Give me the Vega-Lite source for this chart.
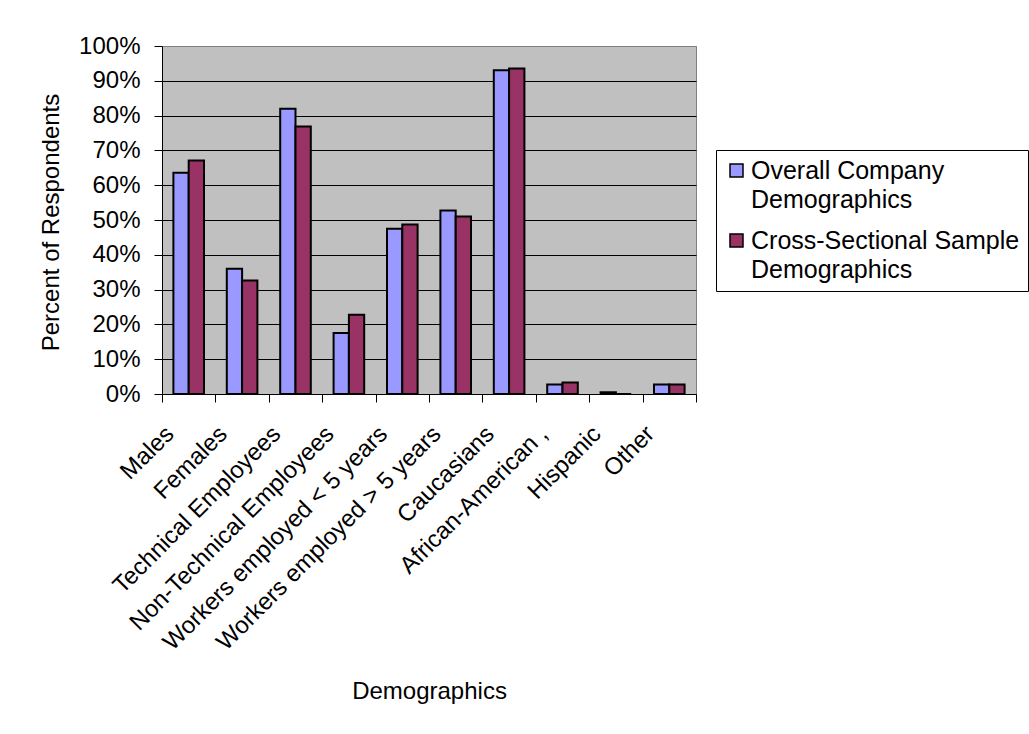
{
  "$schema": "https://vega.github.io/schema/vega-lite/v6.json",
  "width": 534,
  "height": 348,
  "autosize": {"type": "none"},
  "padding": {"left": 162, "top": 46, "right": 333, "bottom": 340},
  "background": "white",
  "config": {
    "font": "Liberation Sans",
    "view": {"fill": "#C0C0C0", "stroke": "#808080", "strokeWidth": 1},
    "style": {"guide-label": {"lineHeight": 29}}
  },
  "data": {
    "values": [
      {"category": "Males", "series": "Overall Company Demographics", "value": 0.636},
      {"category": "Males", "series": "Cross-Sectional Sample Demographics", "value": 0.671},
      {"category": "Females", "series": "Overall Company Demographics", "value": 0.36},
      {"category": "Females", "series": "Cross-Sectional Sample Demographics", "value": 0.326},
      {"category": "Technical Employees", "series": "Overall Company Demographics", "value": 0.82},
      {"category": "Technical Employees", "series": "Cross-Sectional Sample Demographics", "value": 0.769},
      {"category": "Non-Technical Employees", "series": "Overall Company Demographics", "value": 0.175},
      {"category": "Non-Technical Employees", "series": "Cross-Sectional Sample Demographics", "value": 0.228},
      {"category": "Workers employed < 5 years", "series": "Overall Company Demographics", "value": 0.475},
      {"category": "Workers employed < 5 years", "series": "Cross-Sectional Sample Demographics", "value": 0.487},
      {"category": "Workers employed > 5 years", "series": "Overall Company Demographics", "value": 0.527},
      {"category": "Workers employed > 5 years", "series": "Cross-Sectional Sample Demographics", "value": 0.51},
      {"category": "Caucasians", "series": "Overall Company Demographics", "value": 0.93},
      {"category": "Caucasians", "series": "Cross-Sectional Sample Demographics", "value": 0.935},
      {"category": "African-American ,", "series": "Overall Company Demographics", "value": 0.027},
      {"category": "African-American ,", "series": "Cross-Sectional Sample Demographics", "value": 0.033},
      {"category": "Hispanic", "series": "Overall Company Demographics", "value": 0.005},
      {"category": "Hispanic", "series": "Cross-Sectional Sample Demographics", "value": 0.0},
      {"category": "Other", "series": "Overall Company Demographics", "value": 0.027},
      {"category": "Other", "series": "Cross-Sectional Sample Demographics", "value": 0.027}
    ]
  },
  "mark": {"type": "bar", "stroke": "#000", "strokeWidth": 2},
  "encoding": {
    "x": {
      "field": "category",
      "type": "nominal",
      "sort": null,
      "scale": {"paddingInner": 0, "paddingOuter": 0},
      "axis": {
        "title": "Demographics",
        "titleFontSize": 24,
        "titleFontWeight": "normal",
        "titleColor": "#000",
        "titleY": 304,
        "titleBaseline": "alphabetic",
        "labelAngle": -45,
        "labelAlign": "right",
        "labelBaseline": "middle",
        "labelFontSize": 24,
        "labelColor": "#000",
        "labelLimit": 500,
        "labelOffset": -19,
        "labelPadding": 28,
        "tickSize": 8,
        "tickColor": "#000",
        "tickBand": "extent",
        "domainColor": "#000",
        "grid": false
      }
    },
    "xOffset": {
      "field": "series",
      "type": "nominal",
      "sort": ["Overall Company Demographics", "Cross-Sectional Sample Demographics"],
      "scale": {"paddingInner": 0, "paddingOuter": 0.745}
    },
    "y": {
      "field": "value",
      "type": "quantitative",
      "scale": {"domain": [0, 1], "nice": false},
      "axis": {
        "title": "Percent of Respondents",
        "values": [0, 0.1, 0.2, 0.3, 0.4, 0.5, 0.6, 0.7, 0.8, 0.9, 1],
        "format": ".0%",
        "labelFontSize": 24,
        "labelColor": "#000",
        "labelPadding": 14,
        "tickSize": 8,
        "tickColor": "#000",
        "domainColor": "#000",
        "gridColor": {"condition": {"test": "datum.value >= 1", "value": "#808080"}, "value": "#000"},
        "gridWidth": 1,
        "titleFontSize": 24,
        "titleFontWeight": "normal",
        "titleColor": "#000",
        "titleX": -104,
        "titleY": 176,
        "titleAlign": "center",
        "titleBaseline": "alphabetic"
      }
    },
    "color": {
      "field": "series",
      "type": "nominal",
      "scale": {
        "domain": ["Overall Company Demographics", "Cross-Sectional Sample Demographics"],
        "range": ["#9999FF", "#993366"]
      },
      "legend": {
        "orient": "none",
        "legendX": 554,
        "legendY": 104,
        "title": null,
        "symbolType": "square",
        "symbolSize": 169,
        "symbolStrokeColor": "#000",
        "symbolStrokeWidth": 1.5,
        "labelFontSize": 25,
        "labelColor": "#000",
        "labelLimit": 400,
        "labelOffset": 2,
        "labelBaseline": "alphabetic",
        "labelExpr": "datum.value == 'Overall Company Demographics' ? ['Overall Company', 'Demographics'] : ['Cross-Sectional Sample', 'Demographics']",
        "rowPadding": 15,
        "padding": 8,
        "strokeColor": "#000",
        "fillColor": "white",
        "encoding": {"labels": {"dy": {"value": 8}}}
      }
    }
  }
}
